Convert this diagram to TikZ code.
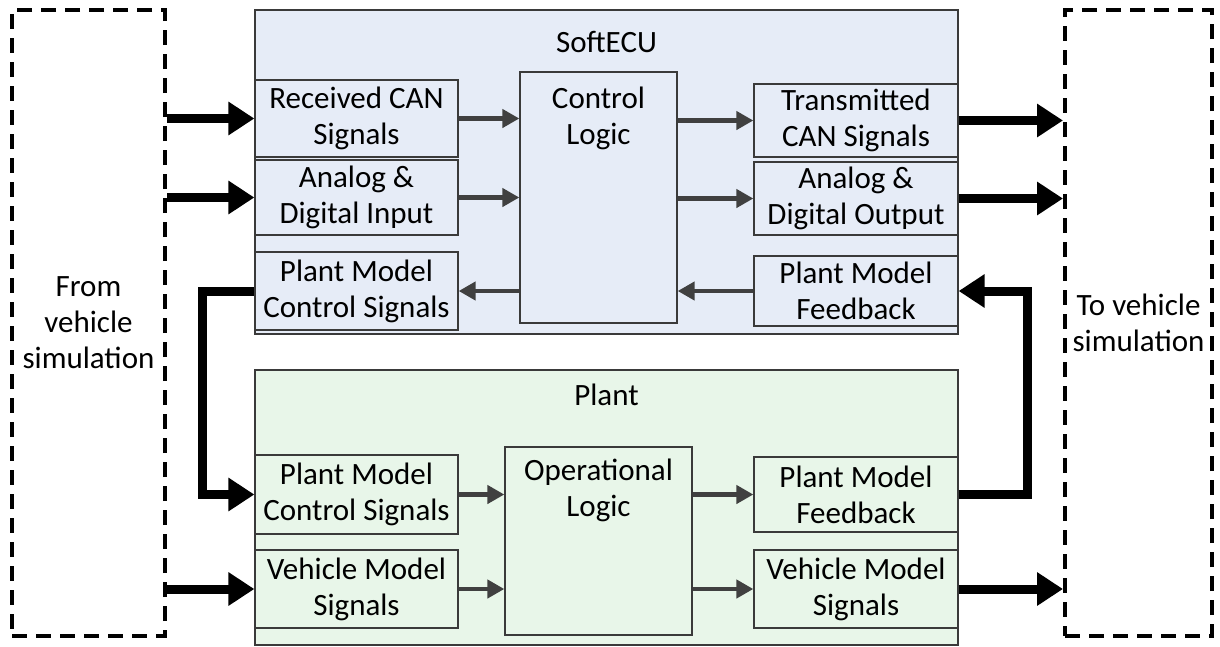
\documentclass[tikz,border=0pt]{standalone}
\usepackage{fontspec}
\setmainfont{Carlito}
\usetikzlibrary{arrows.meta}
\definecolor{ecufill}{HTML}{E6ECF7}
\definecolor{plantfill}{HTML}{E8F6E9}
\definecolor{edge}{HTML}{3A3A3A}
\definecolor{inarrow}{HTML}{404040}
\begin{document}
\begin{tikzpicture}[x=1pt,y=-1pt,
  every node/.style={font=\fontsize{31}{36}\selectfont, text=black},
  group/.style={draw=edge, line width=1.3pt, inner sep=0pt},
  subbox/.style={draw=edge, line width=1.3pt, align=center, inner sep=0pt, minimum width=203pt},
  logicbox/.style={draw=edge, line width=1.3pt, inner sep=0pt},
  simbox/.style={draw=black, line width=4pt, dash pattern=on 15pt off 9pt, align=center, inner sep=0pt},
  inarr/.style={draw=inarrow, line width=4.5pt, -{Triangle[length=17pt,width=18pt]}},
  bigarr/.style={draw=black, line width=9pt, -{Triangle[length=26pt,width=32pt]}}
]
\useasboundingbox (0,0) rectangle (1220,646);

% simulation boxes
\node[simbox, minimum width=153pt, minimum height=626pt] (from) at (88.5,323) {From\\vehicle\\simulation};
\node[simbox, minimum width=147pt, minimum height=626pt] (to) at (1138.5,323) {To vehicle\\simulation};

% SoftECU group
\node[group, fill=ecufill, minimum width=703pt, minimum height=324pt] (ecu) at (606.5,172) {};
\node[anchor=north] (ecut) at (ecu.north) [yshift=-18pt] {SoftECU};

\node[subbox, fill=ecufill, minimum height=77pt] (rcan) at (356.5,118.5) {Received CAN\\Signals};
\node[subbox, fill=ecufill, minimum height=75pt] (adin) at (356.5,197.5) {Analog \&\\Digital Input};
\node[subbox, fill=ecufill, minimum height=78pt] (pmcsA) at (356.5,291) {Plant Model\\Control Signals};

\node[logicbox, fill=ecufill, minimum width=157pt, minimum height=251pt] (ctrl) at (598.5,197.5) {};
\node[anchor=north, align=center] (ctrlt) at (ctrl.north) [yshift=-12pt] {Control\\Logic};

\node[subbox, fill=ecufill, minimum width=204pt, minimum height=73pt] (tcan) at (856,120.5) {Transmitted\\CAN Signals};
\node[subbox, fill=ecufill, minimum width=204pt, minimum height=73pt] (adout) at (856,198.5) {Analog \&\\Digital Output};
\node[subbox, fill=ecufill, minimum width=204pt, minimum height=70pt] (pmfA) at (856,291) {Plant Model\\Feedback};

% Plant group
\node[group, fill=plantfill, minimum width=703pt, minimum height=275pt] (plant) at (606.5,507.5) {};
\node[anchor=north] (plantt) at (plant.north) [yshift=-11pt] {Plant};

\node[subbox, fill=plantfill, minimum height=79pt] (pmcsB) at (356.5,494.5) {Plant Model\\Control Signals};
\node[subbox, fill=plantfill, minimum height=78pt] (vmsA) at (356.5,589) {Vehicle Model\\Signals};

\node[logicbox, fill=plantfill, minimum width=187pt, minimum height=188pt] (oper) at (598.5,541) {};
\node[anchor=north, align=center] (opert) at (oper.north) [yshift=-9pt] {Operational\\Logic};

\node[subbox, fill=plantfill, minimum width=204pt, minimum height=75pt] (pmfB) at (856,494.5) {Plant Model\\Feedback};
\node[subbox, fill=plantfill, minimum width=204pt, minimum height=78pt] (vmsB) at (856,589) {Vehicle Model\\Signals};

% inner SoftECU arrows
\draw[inarr] (rcan.east) -- (rcan.east -| ctrl.west);
\draw[inarr] (adin.east) -- (adin.east -| ctrl.west);
\draw[inarr] (pmcsA.east -| ctrl.west) -- (pmcsA.east);
\draw[inarr] (tcan.west -| ctrl.east) -- (tcan.west);
\draw[inarr] (adout.west -| ctrl.east) -- (adout.west);
\draw[inarr] (pmfA.west) -- (pmfA.west -| ctrl.east);

% inner Plant arrows
\draw[inarr] (pmcsB.east) -- (pmcsB.east -| oper.west);
\draw[inarr] (vmsA.east) -- (vmsA.east -| oper.west);
\draw[inarr] (pmfB.west -| oper.east) -- (pmfB.west);
\draw[inarr] (vmsB.west -| oper.east) -- (vmsB.west);

% thick external arrows
\draw[bigarr] (from.east |- rcan.west) -- (rcan.west);
\draw[bigarr] (from.east |- adin.west) -- (adin.west);
\draw[bigarr] (from.east |- vmsA.west) -- (vmsA.west);
\draw[bigarr] (tcan.east) -- (tcan.east -| to.west);
\draw[bigarr] (adout.east) -- (adout.east -| to.west);
\draw[bigarr] (vmsB.east) -- (vmsB.east -| to.west);

% feedback loops
\draw[bigarr] (pmcsA.west) -- ++(-52,0) |- (pmcsB.west);
\draw[bigarr] (pmfB.east) -- ++(69,0) |- (pmfA.east);
\end{tikzpicture}
\end{document}
